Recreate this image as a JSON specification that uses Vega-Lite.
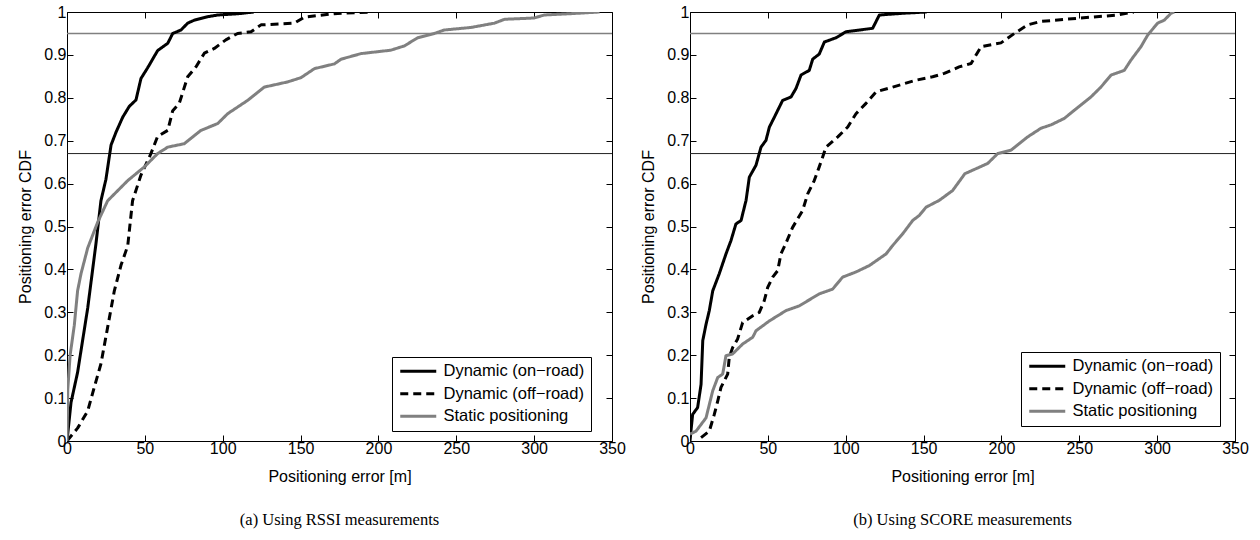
{
  "$schema": "https://vega.github.io/schema/vega-lite/v6.json",
  "background": "white",
  "padding": {"left": 17, "top": 3, "right": 5, "bottom": 5},
  "config": {
    "view": {"stroke": "black", "strokeWidth": 1},
    "axis": {
      "grid": false, "domain": false, "tickColor": "black", "tickSize": -6, "tickWidth": 1,
      "labelColor": "black", "titleColor": "black", "labelFont": "Liberation Sans", "titleFont": "Liberation Sans",
      "labelFontSize": 16, "titleFontSize": 16, "titleFontWeight": "normal",
      "labelFlush": false, "labelOverlap": false, "labelBound": false
    },
    "legend": {
      "orient": "none", "title": null, "strokeColor": "black", "fillColor": "white", "padding": 6,
      "symbolType": "M-3,0H3", "symbolSize": 144, "symbolStrokeWidth": 3, "symbolOffset": 12, "labelOffset": 17,
      "labelFont": "Liberation Sans", "labelFontSize": 16.5, "labelColor": "black", "rowPadding": 5.5, "cornerRadius": 0
    },
    "title": {"font": "Liberation Serif", "fontSize": 16.5, "fontWeight": "normal", "color": "black"}
  },
  "datasets": {
    "refs": [{"y": 0.95}, {"y": 0.67}],
    "cdf": [
      {"panel": "a", "series": "Dynamic (on−road)", "x": 0, "y": 0},
      {"panel": "a", "series": "Dynamic (on−road)", "x": 2.6, "y": 0.09},
      {"panel": "a", "series": "Dynamic (on−road)", "x": 6.8, "y": 0.16},
      {"panel": "a", "series": "Dynamic (on−road)", "x": 13.3, "y": 0.31},
      {"panel": "a", "series": "Dynamic (on−road)", "x": 18.6, "y": 0.46},
      {"panel": "a", "series": "Dynamic (on−road)", "x": 21.8, "y": 0.56},
      {"panel": "a", "series": "Dynamic (on−road)", "x": 25, "y": 0.61},
      {"panel": "a", "series": "Dynamic (on−road)", "x": 28.3, "y": 0.69},
      {"panel": "a", "series": "Dynamic (on−road)", "x": 31.5, "y": 0.72},
      {"panel": "a", "series": "Dynamic (on−road)", "x": 35.8, "y": 0.755},
      {"panel": "a", "series": "Dynamic (on−road)", "x": 40, "y": 0.78},
      {"panel": "a", "series": "Dynamic (on−road)", "x": 44.3, "y": 0.795},
      {"panel": "a", "series": "Dynamic (on−road)", "x": 47.5, "y": 0.845},
      {"panel": "a", "series": "Dynamic (on−road)", "x": 51.8, "y": 0.87},
      {"panel": "a", "series": "Dynamic (on−road)", "x": 58.2, "y": 0.91},
      {"panel": "a", "series": "Dynamic (on−road)", "x": 64.7, "y": 0.927},
      {"panel": "a", "series": "Dynamic (on−road)", "x": 67.9, "y": 0.95},
      {"panel": "a", "series": "Dynamic (on−road)", "x": 73.2, "y": 0.958},
      {"panel": "a", "series": "Dynamic (on−road)", "x": 77.5, "y": 0.974},
      {"panel": "a", "series": "Dynamic (on−road)", "x": 81.8, "y": 0.981},
      {"panel": "a", "series": "Dynamic (on−road)", "x": 90.3, "y": 0.989},
      {"panel": "a", "series": "Dynamic (on−road)", "x": 96.8, "y": 0.993},
      {"panel": "a", "series": "Dynamic (on−road)", "x": 110, "y": 0.996},
      {"panel": "a", "series": "Dynamic (on−road)", "x": 120, "y": 1.0},
      {"panel": "a", "series": "Dynamic (off−road)", "x": 0, "y": 0},
      {"panel": "a", "series": "Dynamic (off−road)", "x": 6.8, "y": 0.03},
      {"panel": "a", "series": "Dynamic (off−road)", "x": 13.3, "y": 0.07},
      {"panel": "a", "series": "Dynamic (off−road)", "x": 17.5, "y": 0.125},
      {"panel": "a", "series": "Dynamic (off−road)", "x": 21.8, "y": 0.18},
      {"panel": "a", "series": "Dynamic (off−road)", "x": 26.1, "y": 0.265},
      {"panel": "a", "series": "Dynamic (off−road)", "x": 30.4, "y": 0.35},
      {"panel": "a", "series": "Dynamic (off−road)", "x": 34.7, "y": 0.41},
      {"panel": "a", "series": "Dynamic (off−road)", "x": 39, "y": 0.455},
      {"panel": "a", "series": "Dynamic (off−road)", "x": 42.1, "y": 0.56},
      {"panel": "a", "series": "Dynamic (off−road)", "x": 47.5, "y": 0.62},
      {"panel": "a", "series": "Dynamic (off−road)", "x": 53.9, "y": 0.67},
      {"panel": "a", "series": "Dynamic (off−road)", "x": 58.2, "y": 0.71},
      {"panel": "a", "series": "Dynamic (off−road)", "x": 64.7, "y": 0.724},
      {"panel": "a", "series": "Dynamic (off−road)", "x": 67.9, "y": 0.77},
      {"panel": "a", "series": "Dynamic (off−road)", "x": 72.1, "y": 0.787},
      {"panel": "a", "series": "Dynamic (off−road)", "x": 77.5, "y": 0.849},
      {"panel": "a", "series": "Dynamic (off−road)", "x": 82.8, "y": 0.872},
      {"panel": "a", "series": "Dynamic (off−road)", "x": 88.2, "y": 0.904},
      {"panel": "a", "series": "Dynamic (off−road)", "x": 94.6, "y": 0.915},
      {"panel": "a", "series": "Dynamic (off−road)", "x": 102, "y": 0.935},
      {"panel": "a", "series": "Dynamic (off−road)", "x": 109.6, "y": 0.95},
      {"panel": "a", "series": "Dynamic (off−road)", "x": 118.2, "y": 0.954},
      {"panel": "a", "series": "Dynamic (off−road)", "x": 124.6, "y": 0.97},
      {"panel": "a", "series": "Dynamic (off−road)", "x": 146, "y": 0.974},
      {"panel": "a", "series": "Dynamic (off−road)", "x": 152.4, "y": 0.988},
      {"panel": "a", "series": "Dynamic (off−road)", "x": 171.5, "y": 0.996},
      {"panel": "a", "series": "Dynamic (off−road)", "x": 195, "y": 1.0},
      {"panel": "a", "series": "Static positioning", "x": 0, "y": 0},
      {"panel": "a", "series": "Static positioning", "x": 0.5, "y": 0.12},
      {"panel": "a", "series": "Static positioning", "x": 2, "y": 0.2},
      {"panel": "a", "series": "Static positioning", "x": 4.7, "y": 0.27},
      {"panel": "a", "series": "Static positioning", "x": 6.8, "y": 0.35},
      {"panel": "a", "series": "Static positioning", "x": 9, "y": 0.39},
      {"panel": "a", "series": "Static positioning", "x": 13.3, "y": 0.45},
      {"panel": "a", "series": "Static positioning", "x": 19.7, "y": 0.51},
      {"panel": "a", "series": "Static positioning", "x": 26.1, "y": 0.56},
      {"panel": "a", "series": "Static positioning", "x": 39, "y": 0.607},
      {"panel": "a", "series": "Static positioning", "x": 49.7, "y": 0.639},
      {"panel": "a", "series": "Static positioning", "x": 58.2, "y": 0.67},
      {"panel": "a", "series": "Static positioning", "x": 64.7, "y": 0.685},
      {"panel": "a", "series": "Static positioning", "x": 75.3, "y": 0.693},
      {"panel": "a", "series": "Static positioning", "x": 86, "y": 0.724},
      {"panel": "a", "series": "Static positioning", "x": 96.8, "y": 0.74},
      {"panel": "a", "series": "Static positioning", "x": 103.2, "y": 0.763},
      {"panel": "a", "series": "Static positioning", "x": 116, "y": 0.794},
      {"panel": "a", "series": "Static positioning", "x": 126.7, "y": 0.825},
      {"panel": "a", "series": "Static positioning", "x": 141.7, "y": 0.837},
      {"panel": "a", "series": "Static positioning", "x": 150.3, "y": 0.847},
      {"panel": "a", "series": "Static positioning", "x": 158.9, "y": 0.868},
      {"panel": "a", "series": "Static positioning", "x": 171.7, "y": 0.879},
      {"panel": "a", "series": "Static positioning", "x": 176, "y": 0.89},
      {"panel": "a", "series": "Static positioning", "x": 188.8, "y": 0.903},
      {"panel": "a", "series": "Static positioning", "x": 208, "y": 0.911},
      {"panel": "a", "series": "Static positioning", "x": 216.7, "y": 0.921},
      {"panel": "a", "series": "Static positioning", "x": 225.2, "y": 0.94},
      {"panel": "a", "series": "Static positioning", "x": 236, "y": 0.95},
      {"panel": "a", "series": "Static positioning", "x": 242.3, "y": 0.958},
      {"panel": "a", "series": "Static positioning", "x": 259.5, "y": 0.964},
      {"panel": "a", "series": "Static positioning", "x": 274.5, "y": 0.974},
      {"panel": "a", "series": "Static positioning", "x": 281, "y": 0.983},
      {"panel": "a", "series": "Static positioning", "x": 300, "y": 0.986},
      {"panel": "a", "series": "Static positioning", "x": 306.5, "y": 0.993},
      {"panel": "a", "series": "Static positioning", "x": 328, "y": 0.997},
      {"panel": "a", "series": "Static positioning", "x": 342, "y": 1.0},
      {"panel": "b", "series": "Dynamic (on−road)", "x": 0, "y": 0},
      {"panel": "b", "series": "Dynamic (on−road)", "x": 0.6, "y": 0.023},
      {"panel": "b", "series": "Dynamic (on−road)", "x": 1.7, "y": 0.062},
      {"panel": "b", "series": "Dynamic (on−road)", "x": 4.9, "y": 0.078},
      {"panel": "b", "series": "Dynamic (on−road)", "x": 7.1, "y": 0.132},
      {"panel": "b", "series": "Dynamic (on−road)", "x": 8.2, "y": 0.234},
      {"panel": "b", "series": "Dynamic (on−road)", "x": 10.3, "y": 0.272},
      {"panel": "b", "series": "Dynamic (on−road)", "x": 12.4, "y": 0.304},
      {"panel": "b", "series": "Dynamic (on−road)", "x": 14.6, "y": 0.35},
      {"panel": "b", "series": "Dynamic (on−road)", "x": 18.8, "y": 0.39},
      {"panel": "b", "series": "Dynamic (on−road)", "x": 23.1, "y": 0.436},
      {"panel": "b", "series": "Dynamic (on−road)", "x": 26.3, "y": 0.467},
      {"panel": "b", "series": "Dynamic (on−road)", "x": 29.5, "y": 0.506},
      {"panel": "b", "series": "Dynamic (on−road)", "x": 32.8, "y": 0.514},
      {"panel": "b", "series": "Dynamic (on−road)", "x": 36, "y": 0.561},
      {"panel": "b", "series": "Dynamic (on−road)", "x": 38.1, "y": 0.615},
      {"panel": "b", "series": "Dynamic (on−road)", "x": 42.4, "y": 0.643},
      {"panel": "b", "series": "Dynamic (on−road)", "x": 45.6, "y": 0.685},
      {"panel": "b", "series": "Dynamic (on−road)", "x": 48.8, "y": 0.701},
      {"panel": "b", "series": "Dynamic (on−road)", "x": 51, "y": 0.732},
      {"panel": "b", "series": "Dynamic (on−road)", "x": 54.2, "y": 0.755},
      {"panel": "b", "series": "Dynamic (on−road)", "x": 59.5, "y": 0.794},
      {"panel": "b", "series": "Dynamic (on−road)", "x": 64.9, "y": 0.802},
      {"panel": "b", "series": "Dynamic (on−road)", "x": 68.1, "y": 0.822},
      {"panel": "b", "series": "Dynamic (on−road)", "x": 71.3, "y": 0.853},
      {"panel": "b", "series": "Dynamic (on−road)", "x": 76.6, "y": 0.864},
      {"panel": "b", "series": "Dynamic (on−road)", "x": 78.8, "y": 0.89},
      {"panel": "b", "series": "Dynamic (on−road)", "x": 83, "y": 0.902},
      {"panel": "b", "series": "Dynamic (on−road)", "x": 86.3, "y": 0.93},
      {"panel": "b", "series": "Dynamic (on−road)", "x": 93.8, "y": 0.94},
      {"panel": "b", "series": "Dynamic (on−road)", "x": 100.2, "y": 0.954},
      {"panel": "b", "series": "Dynamic (on−road)", "x": 117.3, "y": 0.962},
      {"panel": "b", "series": "Dynamic (on−road)", "x": 121.6, "y": 0.993},
      {"panel": "b", "series": "Dynamic (on−road)", "x": 136.6, "y": 0.997},
      {"panel": "b", "series": "Dynamic (on−road)", "x": 152, "y": 1.0},
      {"panel": "b", "series": "Dynamic (off−road)", "x": 7.1, "y": 0.008},
      {"panel": "b", "series": "Dynamic (off−road)", "x": 12.4, "y": 0.023},
      {"panel": "b", "series": "Dynamic (off−road)", "x": 15.6, "y": 0.062},
      {"panel": "b", "series": "Dynamic (off−road)", "x": 17.8, "y": 0.093},
      {"panel": "b", "series": "Dynamic (off−road)", "x": 19.9, "y": 0.125},
      {"panel": "b", "series": "Dynamic (off−road)", "x": 24.2, "y": 0.156},
      {"panel": "b", "series": "Dynamic (off−road)", "x": 25.2, "y": 0.195},
      {"panel": "b", "series": "Dynamic (off−road)", "x": 27.4, "y": 0.218},
      {"panel": "b", "series": "Dynamic (off−road)", "x": 30.6, "y": 0.238},
      {"panel": "b", "series": "Dynamic (off−road)", "x": 33.8, "y": 0.276},
      {"panel": "b", "series": "Dynamic (off−road)", "x": 40.3, "y": 0.292},
      {"panel": "b", "series": "Dynamic (off−road)", "x": 44.5, "y": 0.3},
      {"panel": "b", "series": "Dynamic (off−road)", "x": 47.7, "y": 0.327},
      {"panel": "b", "series": "Dynamic (off−road)", "x": 49.9, "y": 0.358},
      {"panel": "b", "series": "Dynamic (off−road)", "x": 53.1, "y": 0.382},
      {"panel": "b", "series": "Dynamic (off−road)", "x": 56.3, "y": 0.397},
      {"panel": "b", "series": "Dynamic (off−road)", "x": 58.4, "y": 0.436},
      {"panel": "b", "series": "Dynamic (off−road)", "x": 61.5, "y": 0.46},
      {"panel": "b", "series": "Dynamic (off−road)", "x": 65.9, "y": 0.498},
      {"panel": "b", "series": "Dynamic (off−road)", "x": 72.3, "y": 0.537},
      {"panel": "b", "series": "Dynamic (off−road)", "x": 75.6, "y": 0.576},
      {"panel": "b", "series": "Dynamic (off−road)", "x": 79.8, "y": 0.607},
      {"panel": "b", "series": "Dynamic (off−road)", "x": 83, "y": 0.639},
      {"panel": "b", "series": "Dynamic (off−road)", "x": 85.2, "y": 0.662},
      {"panel": "b", "series": "Dynamic (off−road)", "x": 87.3, "y": 0.685},
      {"panel": "b", "series": "Dynamic (off−road)", "x": 94.9, "y": 0.709},
      {"panel": "b", "series": "Dynamic (off−road)", "x": 101.3, "y": 0.732},
      {"panel": "b", "series": "Dynamic (off−road)", "x": 106.6, "y": 0.763},
      {"panel": "b", "series": "Dynamic (off−road)", "x": 113, "y": 0.787},
      {"panel": "b", "series": "Dynamic (off−road)", "x": 119.5, "y": 0.814},
      {"panel": "b", "series": "Dynamic (off−road)", "x": 130.2, "y": 0.825},
      {"panel": "b", "series": "Dynamic (off−road)", "x": 145, "y": 0.841},
      {"panel": "b", "series": "Dynamic (off−road)", "x": 155.8, "y": 0.849},
      {"panel": "b", "series": "Dynamic (off−road)", "x": 163.3, "y": 0.857},
      {"panel": "b", "series": "Dynamic (off−road)", "x": 172.8, "y": 0.872},
      {"panel": "b", "series": "Dynamic (off−road)", "x": 180.5, "y": 0.88},
      {"panel": "b", "series": "Dynamic (off−road)", "x": 186.9, "y": 0.919},
      {"panel": "b", "series": "Dynamic (off−road)", "x": 199.7, "y": 0.928},
      {"panel": "b", "series": "Dynamic (off−road)", "x": 208.3, "y": 0.95},
      {"panel": "b", "series": "Dynamic (off−road)", "x": 216.9, "y": 0.97},
      {"panel": "b", "series": "Dynamic (off−road)", "x": 225.4, "y": 0.978},
      {"panel": "b", "series": "Dynamic (off−road)", "x": 251, "y": 0.986},
      {"panel": "b", "series": "Dynamic (off−road)", "x": 274.7, "y": 0.993},
      {"panel": "b", "series": "Dynamic (off−road)", "x": 285, "y": 1.0},
      {"panel": "b", "series": "Static positioning", "x": 0, "y": 0.016},
      {"panel": "b", "series": "Static positioning", "x": 3.9, "y": 0.023},
      {"panel": "b", "series": "Static positioning", "x": 10.3, "y": 0.054},
      {"panel": "b", "series": "Static positioning", "x": 14.6, "y": 0.117},
      {"panel": "b", "series": "Static positioning", "x": 17.8, "y": 0.148},
      {"panel": "b", "series": "Static positioning", "x": 21, "y": 0.156},
      {"panel": "b", "series": "Static positioning", "x": 23.1, "y": 0.199},
      {"panel": "b", "series": "Static positioning", "x": 27.4, "y": 0.203},
      {"panel": "b", "series": "Static positioning", "x": 33.8, "y": 0.226},
      {"panel": "b", "series": "Static positioning", "x": 40.3, "y": 0.242},
      {"panel": "b", "series": "Static positioning", "x": 42.4, "y": 0.257},
      {"panel": "b", "series": "Static positioning", "x": 51, "y": 0.28},
      {"panel": "b", "series": "Static positioning", "x": 61.7, "y": 0.304},
      {"panel": "b", "series": "Static positioning", "x": 70.2, "y": 0.315},
      {"panel": "b", "series": "Static positioning", "x": 83, "y": 0.343},
      {"panel": "b", "series": "Static positioning", "x": 91.6, "y": 0.354},
      {"panel": "b", "series": "Static positioning", "x": 98, "y": 0.382},
      {"panel": "b", "series": "Static positioning", "x": 106.6, "y": 0.394},
      {"panel": "b", "series": "Static positioning", "x": 115.2, "y": 0.409},
      {"panel": "b", "series": "Static positioning", "x": 125.9, "y": 0.436},
      {"panel": "b", "series": "Static positioning", "x": 130, "y": 0.455},
      {"panel": "b", "series": "Static positioning", "x": 136.6, "y": 0.483},
      {"panel": "b", "series": "Static positioning", "x": 143, "y": 0.514},
      {"panel": "b", "series": "Static positioning", "x": 147.3, "y": 0.526},
      {"panel": "b", "series": "Static positioning", "x": 151.6, "y": 0.545},
      {"panel": "b", "series": "Static positioning", "x": 160.1, "y": 0.561},
      {"panel": "b", "series": "Static positioning", "x": 168.7, "y": 0.584},
      {"panel": "b", "series": "Static positioning", "x": 176.5, "y": 0.623},
      {"panel": "b", "series": "Static positioning", "x": 191.2, "y": 0.647},
      {"panel": "b", "series": "Static positioning", "x": 197.6, "y": 0.67},
      {"panel": "b", "series": "Static positioning", "x": 206.2, "y": 0.678},
      {"panel": "b", "series": "Static positioning", "x": 216.9, "y": 0.709},
      {"panel": "b", "series": "Static positioning", "x": 225.4, "y": 0.729},
      {"panel": "b", "series": "Static positioning", "x": 231.9, "y": 0.737},
      {"panel": "b", "series": "Static positioning", "x": 240.4, "y": 0.752},
      {"panel": "b", "series": "Static positioning", "x": 246.8, "y": 0.771},
      {"panel": "b", "series": "Static positioning", "x": 257.5, "y": 0.802},
      {"panel": "b", "series": "Static positioning", "x": 263.9, "y": 0.825},
      {"panel": "b", "series": "Static positioning", "x": 270.4, "y": 0.853},
      {"panel": "b", "series": "Static positioning", "x": 278.9, "y": 0.864},
      {"panel": "b", "series": "Static positioning", "x": 283.2, "y": 0.888},
      {"panel": "b", "series": "Static positioning", "x": 289.6, "y": 0.919},
      {"panel": "b", "series": "Static positioning", "x": 293.9, "y": 0.946},
      {"panel": "b", "series": "Static positioning", "x": 300.3, "y": 0.974},
      {"panel": "b", "series": "Static positioning", "x": 304.6, "y": 0.981},
      {"panel": "b", "series": "Static positioning", "x": 308.9, "y": 0.997},
      {"panel": "b", "series": "Static positioning", "x": 311, "y": 1.0}
    ]
  },
  "spacing": 78,
  "bounds": "flush",
  "resolve": {
    "scale": {"color": "independent", "strokeDash": "independent"},
    "legend": {"color": "independent", "strokeDash": "independent"}
  },
  "hconcat": [
    {
      "width": 545, "height": 429,
      "title": {"text": "(a) Using RSSI measurements", "orient": "bottom", "anchor": "middle", "offset": 28},
      "resolve": {"axis": {"x": "independent", "y": "independent"}},
      "layer": [
        {
          "data": {"name": "refs"}, "transform": [{"filter": "datum.y == 0.95"}],
          "mark": {"type": "rule", "color": "#808080", "strokeWidth": 1.5},
          "encoding": {"y": {"field": "y", "type": "quantitative", "scale": {"domain": [0, 1], "nice": false}, "axis": null}}
        },
        {
          "data": {"name": "refs"}, "transform": [{"filter": "datum.y == 0.67"}],
          "mark": {"type": "rule", "color": "#222222", "strokeWidth": 1},
          "encoding": {"y": {"field": "y", "type": "quantitative", "scale": {"domain": [0, 1], "nice": false}, "axis": null}}
        },
        {
          "data": {"name": "cdf"}, "transform": [{"filter": "datum.panel == 'a'"}],
          "mark": {"type": "line", "strokeWidth": 3, "strokeJoin": "round", "clip": true},
          "encoding": {
            "x": {"field": "x", "type": "quantitative", "scale": {"domain": [0, 350], "nice": false},
                  "axis": {"orient": "bottom", "values": [0, 50, 100, 150, 200, 250, 300, 350], "title": "Positioning error [m]", "labelPadding": 5, "titlePadding": 12}},
            "y": {"field": "y", "type": "quantitative", "scale": {"domain": [0, 1], "nice": false},
                  "axis": {"orient": "left", "values": [0, 0.1, 0.2, 0.3, 0.4, 0.5, 0.6, 0.7, 0.8, 0.9, 1], "format": "~g", "title": "Positioning error CDF", "labelPadding": 7, "titlePadding": 10}},
            "color": {"field": "series", "type": "nominal",
                      "scale": {"domain": ["Dynamic (on−road)", "Dynamic (off−road)", "Static positioning"], "range": ["#000000", "#000000", "#808080"]},
                      "legend": {"legendX": 325, "legendY": 345}},
            "strokeDash": {"field": "series", "type": "nominal",
                      "scale": {"domain": ["Dynamic (on−road)", "Dynamic (off−road)", "Static positioning"], "range": [[1, 0], [8, 5], [1, 0]]},
                      "legend": {"legendX": 325, "legendY": 345}}
          }
        },
        {
          "data": {"name": "cdf"}, "transform": [{"filter": "datum.panel == 'a'"}],
          "mark": {"type": "point", "opacity": 0},
          "encoding": {
            "x": {"field": "x", "type": "quantitative", "scale": {"domain": [0, 350], "nice": false},
                  "axis": {"orient": "top", "values": [0, 50, 100, 150, 200, 250, 300, 350], "labels": false, "title": null}},
            "y": {"field": "y", "type": "quantitative", "scale": {"domain": [0, 1], "nice": false},
                  "axis": {"orient": "right", "values": [0, 0.1, 0.2, 0.3, 0.4, 0.5, 0.6, 0.7, 0.8, 0.9, 1], "labels": false, "title": null}}
          }
        }
      ]
    },
    {
      "width": 545, "height": 429,
      "title": {"text": "(b) Using SCORE measurements", "orient": "bottom", "anchor": "middle", "offset": 28},
      "resolve": {"axis": {"x": "independent", "y": "independent"}},
      "layer": [
        {
          "data": {"name": "refs"}, "transform": [{"filter": "datum.y == 0.95"}],
          "mark": {"type": "rule", "color": "#808080", "strokeWidth": 1.5},
          "encoding": {"y": {"field": "y", "type": "quantitative", "scale": {"domain": [0, 1], "nice": false}, "axis": null}}
        },
        {
          "data": {"name": "refs"}, "transform": [{"filter": "datum.y == 0.67"}],
          "mark": {"type": "rule", "color": "#222222", "strokeWidth": 1},
          "encoding": {"y": {"field": "y", "type": "quantitative", "scale": {"domain": [0, 1], "nice": false}, "axis": null}}
        },
        {
          "data": {"name": "cdf"}, "transform": [{"filter": "datum.panel == 'b'"}],
          "mark": {"type": "line", "strokeWidth": 3, "strokeJoin": "round", "clip": true},
          "encoding": {
            "x": {"field": "x", "type": "quantitative", "scale": {"domain": [0, 350], "nice": false},
                  "axis": {"orient": "bottom", "values": [0, 50, 100, 150, 200, 250, 300, 350], "title": "Positioning error [m]", "labelPadding": 5, "titlePadding": 12}},
            "y": {"field": "y", "type": "quantitative", "scale": {"domain": [0, 1], "nice": false},
                  "axis": {"orient": "left", "values": [0, 0.1, 0.2, 0.3, 0.4, 0.5, 0.6, 0.7, 0.8, 0.9, 1], "format": "~g", "title": "Positioning error CDF", "labelPadding": 7, "titlePadding": 10}},
            "color": {"field": "series", "type": "nominal",
                      "scale": {"domain": ["Dynamic (on−road)", "Dynamic (off−road)", "Static positioning"], "range": ["#000000", "#000000", "#808080"]},
                      "legend": {"legendX": 331, "legendY": 340}},
            "strokeDash": {"field": "series", "type": "nominal",
                      "scale": {"domain": ["Dynamic (on−road)", "Dynamic (off−road)", "Static positioning"], "range": [[1, 0], [8, 5], [1, 0]]},
                      "legend": {"legendX": 331, "legendY": 340}}
          }
        },
        {
          "data": {"name": "cdf"}, "transform": [{"filter": "datum.panel == 'b'"}],
          "mark": {"type": "point", "opacity": 0},
          "encoding": {
            "x": {"field": "x", "type": "quantitative", "scale": {"domain": [0, 350], "nice": false},
                  "axis": {"orient": "top", "values": [0, 50, 100, 150, 200, 250, 300, 350], "labels": false, "title": null}},
            "y": {"field": "y", "type": "quantitative", "scale": {"domain": [0, 1], "nice": false},
                  "axis": {"orient": "right", "values": [0, 0.1, 0.2, 0.3, 0.4, 0.5, 0.6, 0.7, 0.8, 0.9, 1], "labels": false, "title": null}}
          }
        }
      ]
    }
  ]
}
